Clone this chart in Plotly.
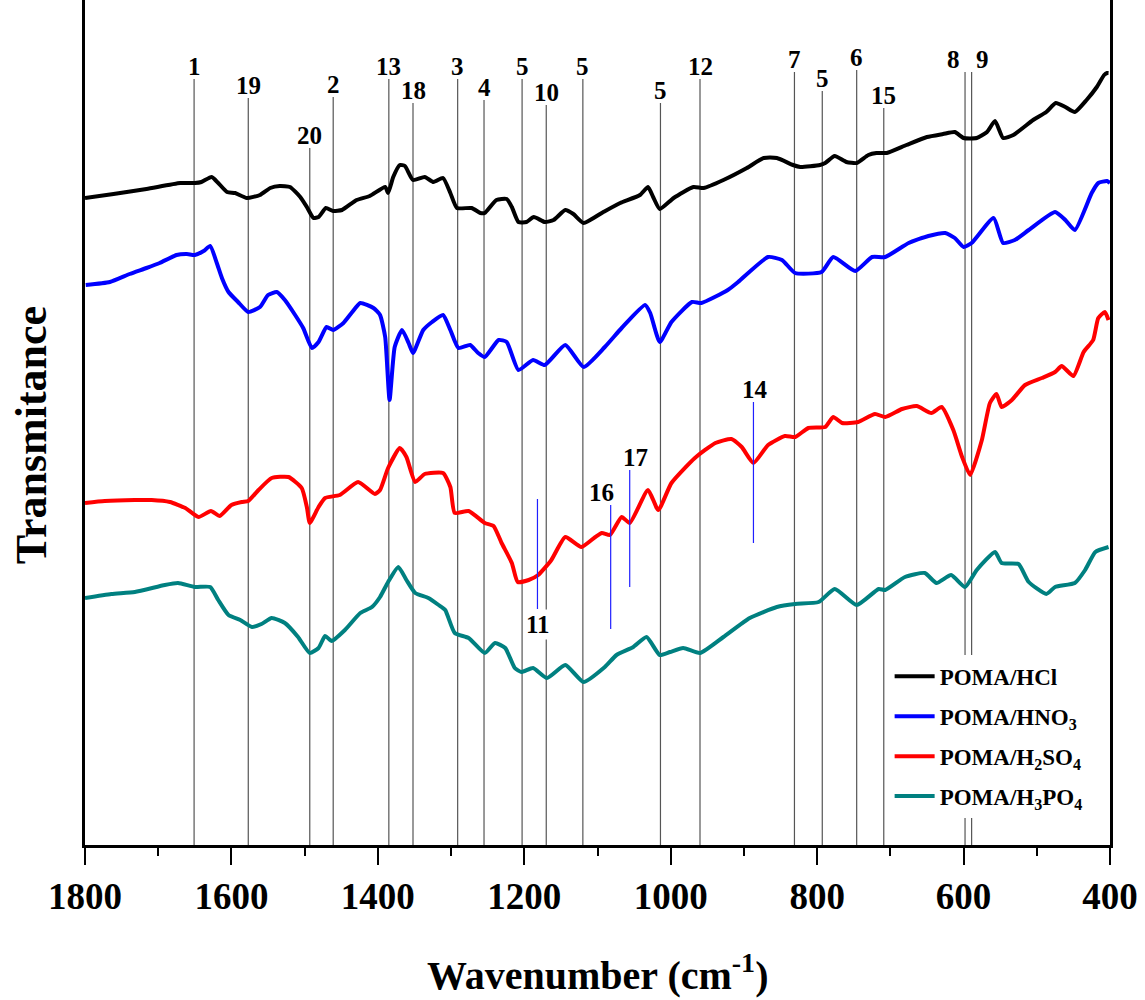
import plotly.graph_objects as go

# ---------------- data (wavenumber in cm-1, transmittance in arbitrary offset units) -------------
hcl_x = [1800,1761,1716,1670,1650,1641,1627,1618,1606,1595,1579,1561,1547,1534,1520,1506,1497,1488,1481,1471,
         1461,1449,1429,1411,1390,1386,1379,1370,1363,1352,1336,1324,1311,1301,1292,1272,1260,1254,1238,1224,
         1217,1208,1197,1187,1172,1160,1144,1133,1119,1092,1069,1042,1031,1024,1015,996,969,955,928,896,
         873,855,833,823,796,789,776,760,746,730,719,705,678,650,628,612,600,582,568,557,
         546,532,505,487,474,461,448,432,418,408,404,402]
hcl_y = [64.7,65.1,65.6,66.2,66.2,66.3,66.8,66.2,65.3,65.2,64.7,65.0,65.7,65.9,65.8,64.8,63.8,62.7,62.8,63.7,
         63.4,63.5,64.5,64.9,65.8,65.2,66.8,68.0,67.9,66.5,66.8,66.3,66.7,65.2,63.7,63.7,63.2,63.2,64.5,64.6,
         63.8,62.3,62.3,62.8,62.3,62.5,63.5,63.1,62.2,63.3,64.2,65.0,65.8,64.8,63.6,64.7,65.8,65.7,66.5,67.7,
         68.7,68.7,68.0,67.8,68.0,68.2,68.9,68.3,68.2,69.0,69.2,69.2,70.0,70.8,71.1,71.3,70.7,70.7,71.3,72.4,
         70.7,71.0,72.5,73.3,74.2,73.8,73.3,74.5,75.8,77.0,77.2,77.2]

hno3_x = [1799,1766,1739,1716,1698,1675,1661,1650,1638,1629,1620,1613,1604,1591,1577,1561,1550,1538,1527,1513,
          1502,1490,1481,1470,1461,1447,1436,1424,1406,1397,1390,1384,1377,1367,1358,1352,1338,1326,1311,1301,
          1290,1274,1263,1254,1235,1224,1208,1188,1172,1144,1119,1090,1067,1035,1028,1015,999,971,958,922,
          908,867,848,830,794,778,748,725,707,675,648,625,612,600,589,559,546,530,511,475,
          461,448,425,416,404,400]
hno3_y = [56.0,56.3,57.1,57.7,58.2,59.0,59.1,59.0,59.4,59.9,58.2,56.7,55.3,54.3,53.3,53.8,55.0,55.3,54.5,53.0,
          51.7,49.7,50.3,51.8,51.5,52.2,53.2,54.2,53.7,53.0,50.8,44.5,49.8,51.5,50.2,49.2,51.5,52.3,53.0,51.5,
          49.7,50.0,49.2,48.8,50.5,50.3,47.5,48.5,48.0,50.0,47.8,49.8,51.7,54.0,53.2,50.3,52.3,54.3,54.2,55.5,
          56.3,58.8,58.5,57.2,57.3,58.8,57.4,58.8,58.8,60.2,60.9,61.2,60.7,59.8,60.2,62.7,60.2,60.5,61.5,63.3,
          62.5,61.5,65.2,66.2,66.4,66.2]

h2so4_x = [1800,1773,1732,1709,1684,1663,1645,1628,1616,1600,1586,1577,1563,1545,1522,1504,1497,1493,1481,1472,
           1452,1427,1404,1397,1386,1370,1361,1349,1336,1311,1301,1295,1276,1254,1242,1231,1217,1209,1194,1181,
           1163,1144,1122,1103,1094,1083,1067,1056,1031,1017,999,967,939,917,903,887,867,844,830,812,
           789,778,766,744,721,707,684,664,644,630,614,602,591,575,564,555,548,534,516,493,
           475,466,450,436,423,416,407,402]
h2so4_y = [34.2,34.4,34.5,34.5,34.3,33.7,32.8,33.4,32.9,34.0,34.3,34.4,35.5,36.7,36.8,35.7,33.8,32.2,33.8,34.7,
           35.0,36.3,35.1,35.5,37.7,39.7,38.8,36.3,37.1,37.2,35.8,33.2,33.4,32.2,31.9,30.2,28.2,26.3,26.5,27.0,
           28.5,30.8,29.8,30.8,31.2,31.0,32.8,32.2,35.5,33.5,36.2,38.7,40.2,40.6,39.8,38.2,40.0,40.9,40.8,41.7,
           41.8,42.8,42.2,42.3,43.1,42.8,43.6,43.9,43.2,43.8,41.5,38.8,37.0,40.5,44.2,45.1,43.8,44.5,46.0,46.7,
           47.3,47.9,46.9,49.3,50.5,52.7,53.3,52.5]

h3po4_x = [1800,1764,1732,1691,1673,1650,1629,1618,1604,1588,1572,1559,1545,1527,1509,1493,1481,1472,1463,1445,
           1424,1408,1397,1386,1372,1361,1349,1331,1317,1308,1295,1276,1254,1240,1226,1213,1204,1188,1169,1144,
           1119,1090,1074,1051,1033,1015,1001,983,960,928,892,855,830,798,776,746,716,707,680,653,
           637,617,598,582,557,548,525,511,487,475,448,434,420,402]
h3po4_y = [24.7,25.1,25.3,26.0,26.2,25.8,25.8,24.5,23.0,22.5,21.8,22.1,22.7,22.2,20.8,19.2,19.7,20.9,20.4,21.5,
           23.2,23.8,24.8,26.3,27.8,26.5,25.2,24.7,24.0,23.5,21.2,20.7,19.2,20.2,19.7,17.7,17.3,17.7,16.7,18.0,
           16.3,17.8,19.0,19.8,20.8,19.0,19.3,19.7,19.2,20.8,22.7,23.8,24.1,24.3,25.6,24.0,25.6,25.5,26.8,27.2,
           26.2,27.0,25.8,27.5,29.3,28.2,28.1,26.3,25.1,25.8,26.2,27.5,29.3,29.8]

series_names = ["POMA/HCl", "POMA/HNO<sub>3</sub>", "POMA/H<sub>2</sub>SO<sub>4</sub>", "POMA/H<sub>3</sub>PO<sub>4</sub>"]
series_colors = ["#000000", "#0000ff", "#ff0000", "#008080"]

# band assignments (gray lines from the top)
band_pos = [1651, 1577, 1493, 1461, 1385, 1352, 1291, 1255, 1203, 1170, 1120, 1014, 960, 831, 793, 746, 709, 598, 589]
band_lbl = ["1", "19", "20", "2", "13", "18", "3", "4", "5", "10", "5", "5", "12", "7", "5", "6", "15", "8", "9"]
band_top = [76.6, 74.7, 69.7, 74.8, 76.6, 74.2, 76.6, 74.5, 76.6, 74.0, 76.6, 74.2, 76.6, 77.3, 75.4, 77.5, 73.7, 77.3, 77.3]
band_dx = [0, 0, 0, 0, 0, 0, 0, 0, 0, 0, 0, 0, 0, 0, 0, 0, 0, -12, 11]

# bands marked on the H2SO4 curve (blue lines)
mark_pos = [1182, 1082, 1056, 887]
mark_lbl = ["11", "16", "17", "14"]
mark_y0 = [23.6, 21.6, 25.8, 30.2]
mark_y1 = [34.6, 34.0, 37.5, 44.3]

FONT = "Liberation Serif"

fig = go.Figure()
for xs, ys, nm, col in zip([hcl_x, hno3_x, h2so4_x, h3po4_x], [hcl_y, hno3_y, h2so4_y, h3po4_y],
                           series_names, series_colors):
    fig.add_trace(go.Scatter(x=xs, y=ys, mode="lines", name="<b>" + nm + "</b>", legendgroup=nm,
                             line=dict(color=col, width=4, shape="spline", smoothing=0.5)))

shapes = []
annotations = []
for p, lab, top, dx in zip(band_pos, band_lbl, band_top, band_dx):
    shapes.append(dict(type="line", xref="x", yref="y", x0=p, x1=p, y0=0, y1=top,
                       line=dict(color="#555555", width=1.2), layer="below"))
    annotations.append(dict(x=p, y=top, xref="x", yref="y", text="<b>" + lab + "</b>", showarrow=False,
                            yanchor="bottom", xanchor="center", xshift=dx, yshift=-3,
                            font=dict(family=FONT, size=25, color="black")))

for p, lab, y0, y1 in zip(mark_pos, mark_lbl, mark_y0, mark_y1):
    shapes.append(dict(type="line", xref="x", yref="y", x0=p, x1=p, y0=y0, y1=y1,
                       line=dict(color="#2020ff", width=1.2), layer="above"))
mark_dx = [1, -9, 6, 2]
for p, lab, y0, y1, dx in zip(mark_pos, mark_lbl, mark_y0, mark_y1, mark_dx):
    if lab == "11":
        annotations.append(dict(x=p, y=y0, xref="x", yref="y", text="<b>" + lab + "</b>", showarrow=False,
                                yanchor="top", xanchor="center", xshift=dx, yshift=0, bgcolor="white",
                                font=dict(family=FONT, size=25, color="black")))
    else:
        annotations.append(dict(x=p, y=y1, xref="x", yref="y", text="<b>" + lab + "</b>", showarrow=False,
                                yanchor="bottom", xanchor="center", xshift=dx, yshift=-3,
                                font=dict(family=FONT, size=25, color="black")))

annotations.append(dict(xref="paper", yref="paper", x=0, y=0.485, xshift=-54, text="<b>Transmitance</b>",
                        textangle=-90, showarrow=False, xanchor="center", yanchor="middle",
                        font=dict(family=FONT, size=44, color="black")))
annotations.append(dict(xref="paper", yref="paper", x=0.5, y=0, yshift=-127,
                        text="<b>Wavenumber (cm<sup>-1</sup>)</b>", showarrow=False,
                        xanchor="center", yanchor="middle", font=dict(family=FONT, size=40, color="black")))

fig.update_layout(
    width=1145, height=1000,
    margin=dict(l=85, r=35, t=0, b=155),
    paper_bgcolor="white", plot_bgcolor="white",
    shapes=shapes, annotations=annotations,
    showlegend=True,
    legend=dict(x=0.785, y=0.225, xanchor="left", yanchor="top", bgcolor="white", borderwidth=0,
                font=dict(family=FONT, size=23, color="black"), tracegroupgap=7, itemwidth=40),
    xaxis=dict(range=[1800, 400], showgrid=False, zeroline=False, showline=True, linecolor="black",
               linewidth=3, mirror=False, ticks="outside", ticklen=17, tickwidth=2, tickcolor="black",
               dtick=200, tick0=400,
               minor=dict(ticks="outside", ticklen=8, tickwidth=2, dtick=100, tickcolor="black", showgrid=False),
               tickfont=dict(family=FONT, size=37, color="black", weight="bold")),
    yaxis=dict(range=[0, 84.5], showgrid=False, zeroline=False, showline=True, linecolor="black",
               linewidth=3, mirror=True, ticks="", showticklabels=False),
)

fig.write_html("out.html")
